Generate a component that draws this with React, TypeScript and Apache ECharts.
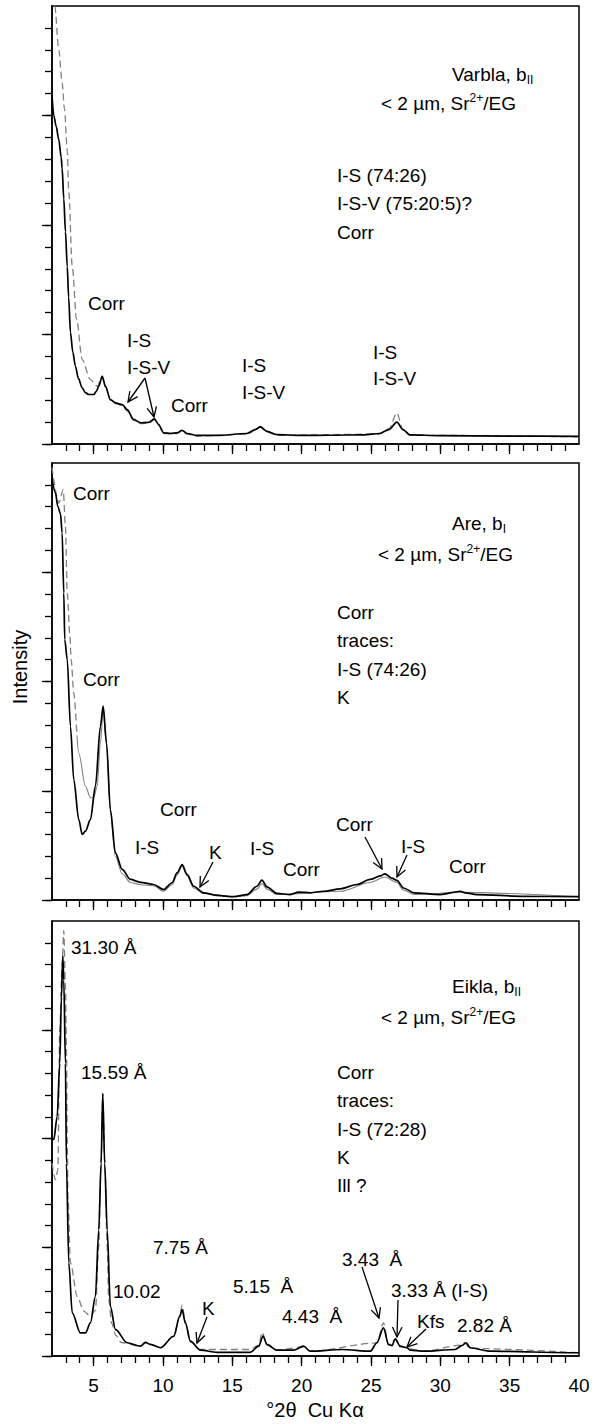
import React, { useEffect, useRef } from "react";
import * as echarts from "echarts";

// ---- axis ticks / labels (°2θ and relative intensity units) ----
const X_MIN = 2;
const X_MAX = 40;
const Y_MIN = 0;
const Y_MAX = 20;
const xMinorTicks = [3, 4, 5, 6, 7, 8, 9, 10, 11, 12, 13, 14, 15, 16, 17, 18, 19, 20, 21, 22, 23, 24, 25, 26, 27, 28, 29, 30, 31, 32, 33, 34, 35, 36, 37, 38, 39];
const xMajorTicks = [5, 10, 15, 20, 25, 30, 35];
const xTickLabels = [5, 10, 15, 20, 25, 30, 35, 40];
const yMinorTicks = [0, 1, 2, 3, 4, 5, 6, 7, 8, 9, 10, 11, 12, 13, 14, 15, 16, 17, 18, 19];
const yMajorTicks = [0, 5, 10, 15];

// ---- Varbla, bII (top panel) ----
const varblaSolid: [number, number][] = [
  [2.0, 15.9], [2.13, 15.0], [2.3, 14.5], [2.49, 13.9], [2.66, 13.1], [2.73, 12.6], [2.85, 11.2], [2.97, 9.7],
  [3.1, 8.1], [3.2, 6.7], [3.33, 5.1], [3.5, 4.2], [3.69, 3.55], [3.9, 3.0], [4.18, 2.56], [4.4, 2.35],
  [4.65, 2.26], [5.01, 2.26], [5.2, 2.4], [5.37, 2.64], [5.62, 3.09], [5.85, 2.64],
  [6.21, 2.03], [6.57, 1.88], [7.06, 1.8], [7.42, 1.57], [7.89, 1.12], [8.38, 0.97], [8.97, 0.99],
  [9.38, 1.15], [9.69, 0.89], [10.05, 0.51], [10.54, 0.48], [11.02, 0.51], [11.38, 0.62], [11.74, 0.48],
  [12.46, 0.39], [13.9, 0.39], [16.06, 0.48], [16.66, 0.66], [17.02, 0.78], [17.5, 0.58], [18.22, 0.43],
  [19.9, 0.39], [22.0, 0.4], [24.5, 0.42], [25.6, 0.48], [26.3, 0.66], [26.87, 1.0], [27.3, 0.66],
  [27.8, 0.42], [30.0, 0.38], [35.0, 0.36], [40.0, 0.35],
];
const varblaDashed: [number, number][] = [
  [2.0, 21.5], [2.2, 20.0], [2.49, 18.0], [2.73, 16.5], [2.9, 15.3], [3.1, 13.4], [3.21, 11.5], [3.46, 8.1],
  [3.77, 5.7], [4.18, 3.85], [4.77, 2.94], [5.26, 2.64], [5.62, 3.09], [5.85, 2.6], [6.21, 2.0], [6.57, 1.85],
  [7.06, 1.75], [7.42, 1.5], [7.89, 1.08], [8.38, 0.93], [8.97, 0.95], [9.38, 1.1], [9.69, 0.85],
  [10.05, 0.48], [11.02, 0.48], [11.38, 0.6], [11.74, 0.45], [12.5, 0.36], [16.06, 0.45], [17.02, 0.8],
  [17.5, 0.55], [18.22, 0.4], [25.6, 0.45], [26.3, 0.7], [26.87, 1.42], [27.3, 0.66], [27.8, 0.4], [40.0, 0.33],
];

// ---- Are, bI (middle panel) ----
const areSolid: [number, number][] = [
  [2.01, 19.24], [2.25, 18.63], [2.42, 18.01], [2.61, 17.68], [2.73, 16.8], [2.85, 14.05], [2.92, 11.92],
  [3.1, 11.0], [3.33, 7.95], [3.57, 5.51], [3.93, 3.68], [4.18, 3.0], [4.41, 3.15], [4.77, 3.68], [5.13, 5.21],
  [5.49, 7.95], [5.69, 8.87], [5.93, 7.19], [6.21, 4.14], [6.57, 2.16], [7.06, 1.4], [7.65, 0.94], [8.38, 0.81],
  [9.33, 0.71], [10.05, 0.48], [10.66, 0.79], [11.02, 1.24], [11.38, 1.62], [11.74, 1.17], [12.22, 0.63],
  [12.94, 0.33], [13.9, 0.21], [15.1, 0.15], [16.06, 0.25], [16.78, 0.63], [17.14, 0.91], [17.5, 0.6],
  [18.22, 0.3], [19.18, 0.25], [19.78, 0.36], [20.62, 0.33], [21.58, 0.4], [22.78, 0.51], [23.99, 0.71],
  [24.94, 0.94], [25.67, 1.1], [26.0, 1.2], [26.5, 1.0], [26.87, 0.9], [27.35, 0.55], [28.1, 0.33],
  [29.99, 0.25], [31.43, 0.4], [31.79, 0.33], [32.63, 0.25], [35.99, 0.17], [39.84, 0.15], [40.0, 0.15],
];
const areGrayDashed: [number, number][] = [
  [2.0, 19.8], [2.49, 18.17], [2.81, 18.78], [2.97, 17.1], [3.1, 14.05], [3.28, 12.22], [3.38, 11.0],
  [3.57, 9.48], [3.8, 7.5],
];
const areGrayThin: [number, number][] = [
  [3.8, 7.5], [3.93, 6.73], [4.41, 5.21], [4.77, 4.68], [5.01, 4.68], [5.26, 5.21], [5.49, 7.19], [5.69, 8.7],
  [5.93, 7.1], [6.21, 4.0], [6.57, 2.0], [7.06, 1.2], [7.65, 0.8], [8.38, 0.7], [9.33, 0.65], [10.05, 0.4],
  [10.66, 0.7], [11.02, 1.15], [11.38, 1.55], [11.74, 1.1], [12.22, 0.55], [12.94, 0.3], [15.1, 0.15],
  [16.06, 0.2], [16.78, 0.5], [17.14, 0.75], [17.5, 0.5], [18.22, 0.25], [22.78, 0.4], [24.94, 0.8],
  [26.0, 1.05], [26.87, 0.8], [27.35, 0.45], [28.1, 0.25], [31.43, 0.35], [40.0, 0.15],
];

// ---- Eikla, bII (bottom panel) ----
const eiklaSolid: [number, number][] = [
  [2.01, 10.01], [2.13, 9.96], [2.37, 11.0], [2.56, 13.45], [2.68, 16.5], [2.78, 18.4], [2.85, 17.27],
  [2.97, 13.45], [3.04, 8.86], [3.21, 4.28], [3.46, 1.98], [4.05, 1.06], [4.41, 1.06], [4.77, 1.52],
  [5.13, 2.74], [5.37, 5.8], [5.54, 8.86], [5.66, 12.07], [5.8, 8.86], [5.98, 5.8], [6.21, 2.28], [6.57, 1.22],
  [7.42, 0.61], [8.38, 0.45], [8.74, 0.63], [9.1, 0.53], [9.82, 0.38], [10.78, 0.91], [11.21, 1.83],
  [11.38, 2.13], [11.62, 1.52], [11.98, 0.68], [12.7, 0.27], [13.9, 0.17], [16.3, 0.17], [16.9, 0.45],
  [17.22, 0.91], [17.5, 0.53], [18.22, 0.27], [19.42, 0.27], [20.14, 0.45], [20.62, 0.22], [22.91, 0.3],
  [24.95, 0.22], [25.43, 0.61], [25.9, 1.29], [26.27, 0.53], [26.51, 0.48], [26.75, 0.79], [27.11, 0.45],
  [27.59, 0.38], [27.83, 0.27], [28.79, 0.22], [31.07, 0.3], [31.55, 0.48], [31.86, 0.61], [32.15, 0.38],
  [33.59, 0.22], [39.84, 0.15], [40.0, 0.15],
];
const eiklaDashed: [number, number][] = [
  [2.01, 8.86], [2.25, 8.1], [2.42, 8.56], [2.56, 14.98], [2.73, 18.05], [2.85, 19.56], [2.97, 16.96],
  [3.05, 13.9], [3.1, 10.0], [3.15, 7.33], [3.33, 4.28], [3.82, 2.74], [4.29, 2.06], [4.77, 1.83],
  [5.13, 2.1], [5.37, 5.0], [5.54, 8.86], [5.66, 12.07], [5.82, 8.6], [5.98, 5.0], [6.09, 2.6], [6.3, 1.5],
  [6.6, 0.95], [7.0, 0.62], [8.38, 0.45], [8.74, 0.6], [9.1, 0.53], [9.82, 0.38], [10.78, 0.9], [11.21, 1.8],
  [11.38, 2.35], [11.62, 1.5], [11.98, 0.65], [12.7, 0.3], [16.3, 0.3], [16.9, 0.5], [17.15, 1.1],
  [17.5, 0.5], [18.22, 0.27], [20.14, 0.42], [20.62, 0.22], [25.43, 0.6], [25.9, 1.52], [26.27, 0.5],
  [26.75, 0.75], [27.11, 0.42], [28.79, 0.22], [31.55, 0.5], [31.75, 0.62], [32.15, 0.35], [40.0, 0.15],
];

// ---- annotation texts (pixel anchors: left x, middle y) ----
const annotations: { t: string; x: number; y: number }[] = [
  // top panel
  { t: "{n|Varbla, b}{sub|II}", x: 452, y: 74 },
  { t: "{n|< 2 µm, Sr}{sup|2+}{n|/EG}", x: 381, y: 103 },
  { t: "I-S (74:26)", x: 337, y: 175 },
  { t: "I-S-V (75:20:5)?", x: 337, y: 203 },
  { t: "Corr", x: 337, y: 232 },
  { t: "Corr", x: 88, y: 303 },
  { t: "I-S", x: 127, y: 340 },
  { t: "I-S-V", x: 127, y: 367 },
  { t: "Corr", x: 171, y: 405 },
  { t: "I-S", x: 242, y: 365 },
  { t: "I-S-V", x: 242, y: 392 },
  { t: "I-S", x: 373, y: 352 },
  { t: "I-S-V", x: 373, y: 378 },
  // middle panel
  { t: "{n|Are, b}{sub|I}", x: 452, y: 523 },
  { t: "{n|< 2 µm, Sr}{sup|2+}{n|/EG}", x: 378, y: 554 },
  { t: "Corr", x: 337, y: 612 },
  { t: "traces:", x: 337, y: 640 },
  { t: "I-S (74:26)", x: 337, y: 669 },
  { t: "K", x: 337, y: 697 },
  { t: "Corr", x: 73, y: 493 },
  { t: "Corr", x: 83, y: 679 },
  { t: "Corr", x: 160, y: 809 },
  { t: "I-S", x: 135, y: 847 },
  { t: "K", x: 209, y: 852 },
  { t: "I-S", x: 250, y: 848 },
  { t: "Corr", x: 283, y: 869 },
  { t: "Corr", x: 336, y: 824 },
  { t: "I-S", x: 401, y: 846 },
  { t: "Corr", x: 449, y: 866 },
  // bottom panel
  { t: "{n|Eikla, b}{sub|II}", x: 452, y: 986 },
  { t: "{n|< 2 µm, Sr}{sup|2+}{n|/EG}", x: 381, y: 1017 },
  { t: "Corr", x: 337, y: 1072 },
  { t: "traces:", x: 337, y: 1100 },
  { t: "I-S (72:28)", x: 337, y: 1129 },
  { t: "K", x: 337, y: 1157 },
  { t: "Ill ?", x: 337, y: 1185 },
  { t: "31.30 Å", x: 71, y: 947 },
  { t: "15.59 Å", x: 81, y: 1072 },
  { t: "7.75 Å", x: 153, y: 1247 },
  { t: "10.02", x: 113, y: 1291 },
  { t: "K", x: 202, y: 1308 },
  { t: "5.15  Å", x: 233, y: 1286 },
  { t: "4.43  Å", x: 282, y: 1316 },
  { t: "3.43  Å", x: 342, y: 1259 },
  { t: "3.33 Å (I-S)", x: 391, y: 1290 },
  { t: "Kfs", x: 417, y: 1321 },
  { t: "2.82 Å", x: 457, y: 1325 },
];

// arrows: tail -> tip (pixels)
const arrows: [number, number, number, number][] = [
  [145, 378, 128, 402],
  [145, 378, 154, 417],
  [213, 862, 200, 887],
  [365, 837, 382, 869],
  [407, 855, 397, 877],
  [207, 1317, 197, 1343],
  [362, 1267, 379, 1318],
  [398, 1300, 397, 1337],
  [426, 1329, 407, 1347],
];

const FONT = '"Liberation Sans", Arial, Helvetica, sans-serif';
const FS = 19;
const GRIDS = [
  { left: 52, top: 6, width: 527, height: 438 },
  { left: 52, top: 463, width: 527, height: 437 },
  { left: 52, top: 921, width: 527, height: 435 },
];

function arrowElements(a: [number, number, number, number]) {
  const [x1, y1, x2, y2] = a;
  const ang = Math.atan2(y2 - y1, x2 - x1);
  const L = 11;
  const spread = 0.45;
  const p1 = [x2 - L * Math.cos(ang - spread), y2 - L * Math.sin(ang - spread)];
  const p2 = [x2 - L * Math.cos(ang + spread), y2 - L * Math.sin(ang + spread)];
  return [
    { type: "polyline", shape: { points: [[x1, y1], [x2, y2]] }, style: { stroke: "#000", lineWidth: 1.3, fill: null } },
    { type: "polyline", shape: { points: [p1, [x2, y2], p2] }, style: { stroke: "#000", lineWidth: 1.3, fill: null } },
  ];
}

export default function App() {
  const ref = useRef<HTMLDivElement>(null);
  useEffect(() => {
    if (!ref.current) return;
    const chart = echarts.init(ref.current, null, { renderer: "svg" });

    const xAxes: any[] = [];
    const yAxes: any[] = [];
    GRIDS.forEach((_, g) => {
      const isBottom = g === GRIDS.length - 1;
      xAxes.push({
        type: "value", gridIndex: g, min: X_MIN, max: X_MAX, position: "bottom",
        axisLine: { show: true, lineStyle: { color: "#000", width: 1.5 } },
        axisTick: { show: true, customValues: xMinorTicks, length: 7, lineStyle: { color: "#000", width: 1.3 } },
        axisLabel: isBottom
          ? { show: true, customValues: xTickLabels, fontSize: FS, color: "#000", fontFamily: FONT, margin: 20 }
          : { show: false },
        splitLine: { show: false },
      });
      xAxes.push({
        type: "value", gridIndex: g, min: X_MIN, max: X_MAX, position: "bottom", offset: 0,
        axisLine: { show: false },
        axisTick: { show: true, customValues: xMajorTicks, length: 10, lineStyle: { color: "#000", width: 1.3 } },
        axisLabel: { show: false },
        splitLine: { show: false },
      });
      yAxes.push({
        type: "value", gridIndex: g, min: Y_MIN, max: Y_MAX, position: "left",
        axisLine: { show: true, lineStyle: { color: "#000", width: 1.5 } },
        axisTick: { show: true, customValues: yMinorTicks, length: 7, lineStyle: { color: "#000", width: 1.3 } },
        axisLabel: { show: false },
        splitLine: { show: false },
      });
      yAxes.push({
        type: "value", gridIndex: g, min: Y_MIN, max: Y_MAX, position: "left", offset: 0,
        axisLine: { show: false },
        axisTick: { show: true, customValues: yMajorTicks, length: 10, lineStyle: { color: "#000", width: 1.3 } },
        axisLabel: { show: false },
        splitLine: { show: false },
      });
    });

    const gray = "#808080";
    const mk = (data: [number, number][], g: number, color: string, width: number, dashed: boolean, z: number) => ({
      type: "line", data, xAxisIndex: 2 * g, yAxisIndex: 2 * g, showSymbol: false, symbol: "none",
      smooth: 0.3, smoothMonotone: "x",
      lineStyle: { color, width, type: dashed ? [7, 4] : "solid" }, z, silent: true, clip: true,
    });

    const series = [
      mk(varblaDashed, 0, gray, 1.3, true, 2),
      mk(varblaSolid, 0, "#000", 1.7, false, 3),
      mk(areGrayDashed, 1, gray, 1.3, true, 2),
      mk(areGrayThin, 1, gray, 1.1, false, 2),
      mk(areSolid, 1, "#000", 1.7, false, 3),
      mk(eiklaDashed, 2, gray, 1.3, true, 2),
      mk(eiklaSolid, 2, "#000", 1.7, false, 3),
    ];

    const rich = {
      n: { fontSize: FS, fontFamily: FONT, fill: "#000", color: "#000", lineHeight: 23, verticalAlign: "middle" },
      sub: { fontSize: 12, fontFamily: FONT, fill: "#000", color: "#000", lineHeight: 12, verticalAlign: "bottom" },
      sup: { fontSize: 12, fontFamily: FONT, fill: "#000", color: "#000", lineHeight: 12, verticalAlign: "top" },
    };

    const texts = annotations.map((a) => ({
      type: "text", x: a.x, y: a.y, z: 10,
      style: {
        text: a.t, fontSize: FS, fontFamily: FONT, fill: "#000",
        textAlign: "left", textVerticalAlign: "middle", align: "left", verticalAlign: "middle",
        rich: a.t.includes("{") ? rich : undefined,
      },
    }));

    const graphic: any[] = [
      ...texts,
      ...arrows.flatMap((a) => arrowElements(a)),
      {
        type: "text", x: 20, y: 667, rotation: Math.PI / 2,
        style: { text: "Intensity", fontSize: 20, fontFamily: FONT, fill: "#000", textAlign: "center", textVerticalAlign: "middle", align: "center", verticalAlign: "middle" },
      },
      {
        type: "text", x: 315, y: 1410,
        style: { text: "°2θ  Cu Kα", fontSize: 20, fontFamily: FONT, fill: "#000", textAlign: "center", textVerticalAlign: "middle", align: "center", verticalAlign: "middle" },
      },
    ];

    chart.setOption({
      animation: false,
      backgroundColor: "#fff",
      grid: GRIDS.map((g) => ({ ...g, show: true, borderColor: "#000", borderWidth: 1.5, backgroundColor: "transparent", containLabel: false })),
      xAxis: xAxes,
      yAxis: yAxes,
      series,
      graphic,
    });
    return () => chart.dispose();
  }, []);
  return <div ref={ref} style={{ position: "absolute", left: 0, top: 0, width: 595, height: 1424 }} />;
}
